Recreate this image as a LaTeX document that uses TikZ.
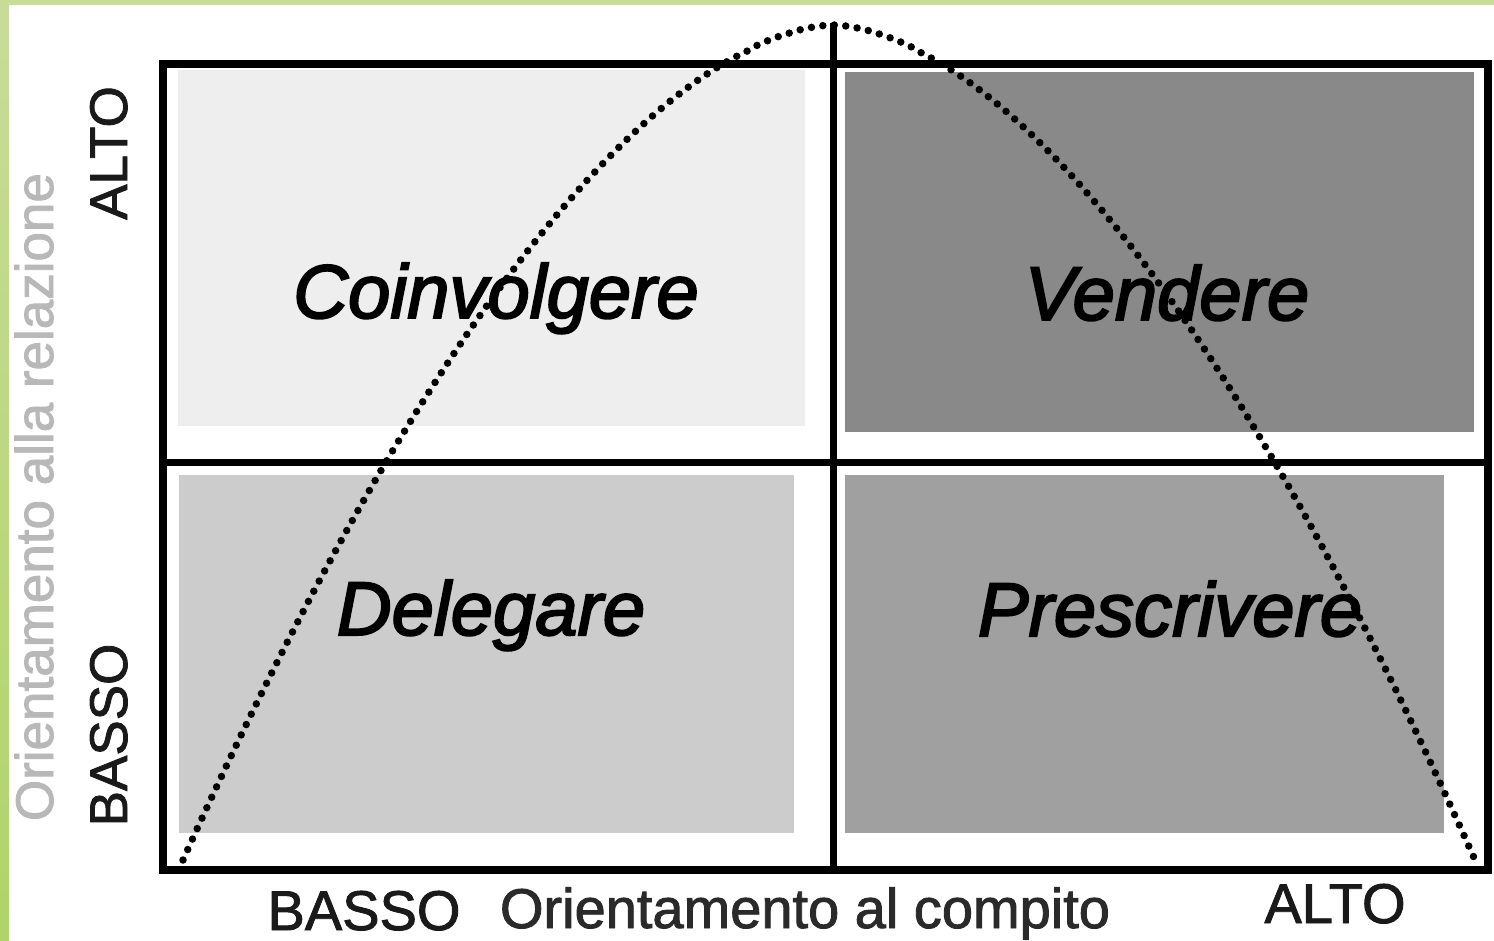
\documentclass[tikz,border=0pt]{standalone}
\usepackage{fontspec}
\setmainfont{Liberation Sans}
\newfontfamily\quadfont[FakeBold=2.6, ItalicFeatures={FakeBold=2.6}]{Liberation Sans}
\newfontfamily\axisfont[FakeBold=1.6]{Liberation Sans}
\definecolor{bandgreen}{HTML}{C8DC98}
\definecolor{bandcream}{HTML}{F6F1E4}
\definecolor{bandgreenb}{HTML}{B0D468}
\definecolor{qtl}{HTML}{EEEEEE}
\definecolor{qtr}{HTML}{898989}
\definecolor{qbl}{HTML}{CCCCCC}
\definecolor{qbr}{HTML}{A0A0A0}
\definecolor{relgray}{HTML}{B8B8B8}
\definecolor{darktext}{HTML}{1A1A1A}
\definecolor{comptext}{HTML}{2A2A2A}
\begin{document}
\begin{tikzpicture}[x=1pt,y=-1pt,
  quad/.style={font=\quadfont\fontsize{76}{80}\selectfont\itshape, anchor=base, inner sep=0pt},
  axislabel/.style={font=\axisfont\fontsize{56}{60}\selectfont, anchor=base, inner sep=0pt, text=darktext},
  vaxislabel/.style={font=\axisfont\fontsize{53}{56}\selectfont, anchor=base, inner sep=0pt, rotate=90, text=darktext},
  frameline/.style={line width=8pt},
  crossline/.style={line width=7pt},
  dotcurve/.style={line width=7.5pt, line cap=round, dash pattern=on 0pt off 11.5pt}]
\useasboundingbox (0,0) rectangle (1494,940);
\fill[white] (0,0) rectangle (1494,940);
% green border bands
\fill[bandgreen] (0,0) rectangle (1494,5);
\shade[top color=bandgreen, middle color=bandcream, bottom color=bandgreenb] (0,0) rectangle (9,940);
% quadrant fills
\fill[qtl] (178,70) rectangle (805,426);
\fill[qtr] (845,72) rectangle (1474,432);
\fill[qbl] (179,475) rectangle (794,833);
\fill[qbr] (845,475) rectangle (1444,833);
% frame and cross
\draw[frameline] (163,64) rectangle (1488,870);
\coordinate (vtop) at (833,23);
\coordinate (vbot) at (833,870);
\coordinate (hleft) at (163,462);
\coordinate (hright) at (1488,462);
\draw[crossline] (vtop) -- (vbot);
\draw[crossline] (hleft) -- (hright);
% quadrant labels
\node[quad] (coinv) at (496,318) {Coinvolgere};
\node[quad] (vend) at (1167,320) {Vendere};
\node[quad] (deleg) at (491,635) {Delegare};
\node[quad] (presc) at (1170,636) {Prescrivere};
% dotted curve
\draw[dotcurve] plot[domain=-1:1, samples=200, variable=\t]
  ({833+((\t<0)?650:642)*\t}, {25+835*abs(\t)^1.73});
% axis labels
\node[axislabel] (bassoB) at (364,930) {BASSO};
\node[axislabel, text=comptext] (oricomp) at (805,928) {Orientamento al compito};
\node[axislabel] (altoB) at (1335,923) {ALTO};
\node[vaxislabel] (altoL) at (127,153) {ALTO};
\node[vaxislabel] (bassoL) at (127,735) {BASSO};
\node[vaxislabel, text=relgray] (orirel) at (53,497) {Orientamento alla relazione};
\end{tikzpicture}
\end{document}
